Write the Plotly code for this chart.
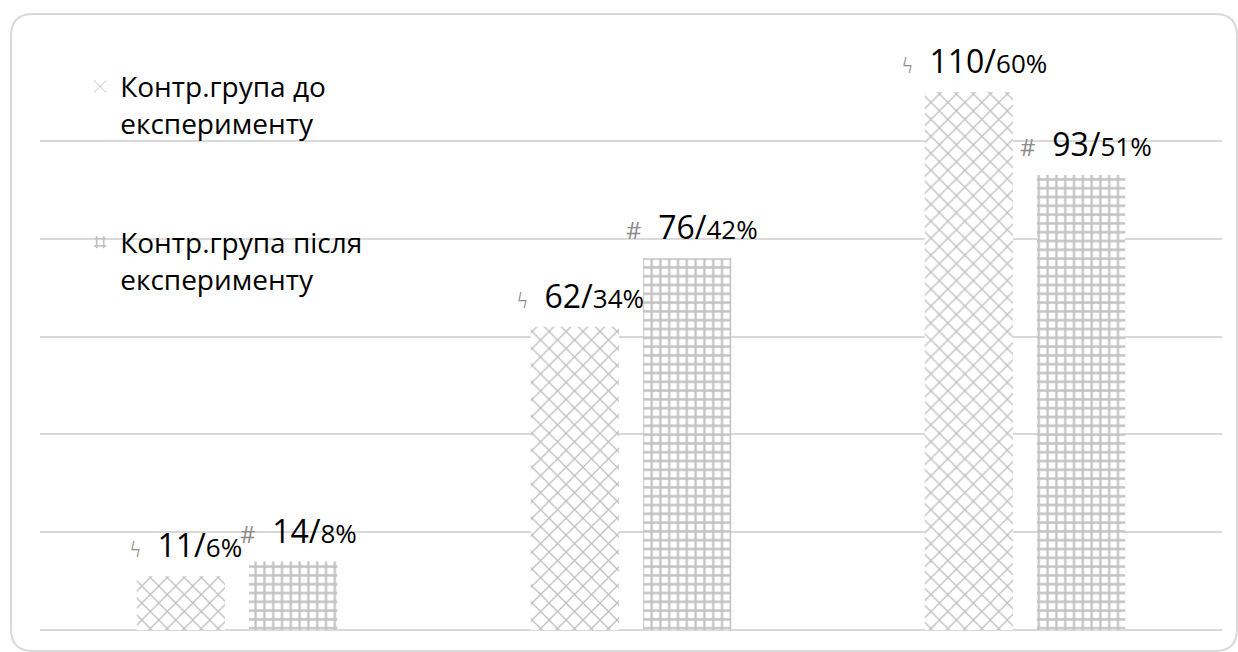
import plotly.graph_objects as go

# Data
categories = ["Група 1", "Група 2", "Група 3"]
before_counts = [11, 62, 110]
before_pct = [6, 34, 60]
after_counts = [14, 76, 93]
after_pct = [8, 42, 51]
series_names = ["Контр.група до<br>експерименту", "Контр.група після<br>експерименту"]

W, H = 1238, 652
ML, MR, MT, MB = 40, 16, 43, 22
PW, PH = W - ML - MR, H - MT - MB

FONT = "Open Sans"
GRID = "#d9d9d9"

fig = go.Figure()

fig.add_trace(go.Bar(
    x=categories, y=before_counts, name=series_names[0], legendgroup="a",
    marker=dict(color="white", line=dict(width=0),
                pattern=dict(shape="x", fgcolor="#7d7d7d", bgcolor="white",
                             size=12, solidity=0.2)),
    hoverinfo="skip",
))
fig.add_trace(go.Bar(
    x=categories, y=after_counts, name=series_names[1], legendgroup="b",
    marker=dict(color="white", line=dict(width=0),
                pattern=dict(shape="+", fgcolor="#858585", bgcolor="white",
                             size=8.8, solidity=0.45)),
    hoverinfo="skip",
))

# Value labels above bars: count / percentage, with a small series glyph
glyphs = ["ϟ", "#"]
offsets = [-56, 56]
for s, (counts, pcts) in enumerate([(before_counts, before_pct), (after_counts, after_pct)]):
    for c, v, p in zip(categories, counts, pcts):
        fig.add_annotation(
            x=c, y=v, xref="x", yref="y",
            xshift=offsets[s] + 5, yshift=8,
            xanchor="center", yanchor="bottom", showarrow=False,
            text=(f"<span style='font-size:24px;color:#8c8c8c'>{glyphs[s]}</span>"
                  f"  {v}/<span style='font-size:26px'>{p}%</span>"),
            font=dict(family=FONT, size=32, color="#000000"),
        )

# Rounded frame around the chart area
def px_to_paper(px, py):
    return (px - ML) / PW, (H - MB - py) / PH

x0, y0, x1, y1, r = 11, 14, 1237, 651, 22
pts = [
    ("M", x0 + r, y0), ("L", x1 - r, y0), ("Q", x1, y0, x1, y0 + r),
    ("L", x1, y1 - r), ("Q", x1, y1, x1 - r, y1), ("L", x0 + r, y1),
    ("Q", x0, y1, x0, y1 - r), ("L", x0, y0 + r), ("Q", x0, y0, x0 + r, y0),
]
path = ""
for seg in pts:
    cmd, coords = seg[0], seg[1:]
    conv = []
    for i in range(0, len(coords), 2):
        px, py = px_to_paper(coords[i], coords[i + 1])
        conv.append(f"{px:.5f},{py:.5f}")
    path += cmd + " ".join(conv) + " "
path += "Z"
fig.add_shape(type="path", path=path, xref="paper", yref="paper",
              line=dict(color="#d9d9d9", width=2), layer="below")

fig.update_layout(
    width=W, height=H,
    margin=dict(l=ML, r=MR, t=MT, b=MB),
    paper_bgcolor="white", plot_bgcolor="white",
    barmode="group", bargap=0.43, bargroupgap=0.214,
    font=dict(family=FONT, color="#000000"),
    showlegend=True,
    legend=dict(
        x=0.034, y=0.968, xanchor="left", yanchor="top",
        font=dict(family=FONT, size=28, color="#000000"),
        bgcolor="rgba(0,0,0,0)", borderwidth=0,
        traceorder="grouped", tracegroupgap=80, valign="top",
        itemclick=False, itemdoubleclick=False,
    ),
    xaxis=dict(showticklabels=False, showgrid=False, zeroline=False,
               showline=False, ticks="", fixedrange=True),
    yaxis=dict(range=[0, 120], dtick=20, showticklabels=False,
               showgrid=True, gridcolor=GRID, gridwidth=1.5,
               zeroline=True, zerolinecolor=GRID, zerolinewidth=1.5,
               showline=False, ticks="", fixedrange=True),
)

fig.write_html("out.html", config={"displayModeBar": False})
